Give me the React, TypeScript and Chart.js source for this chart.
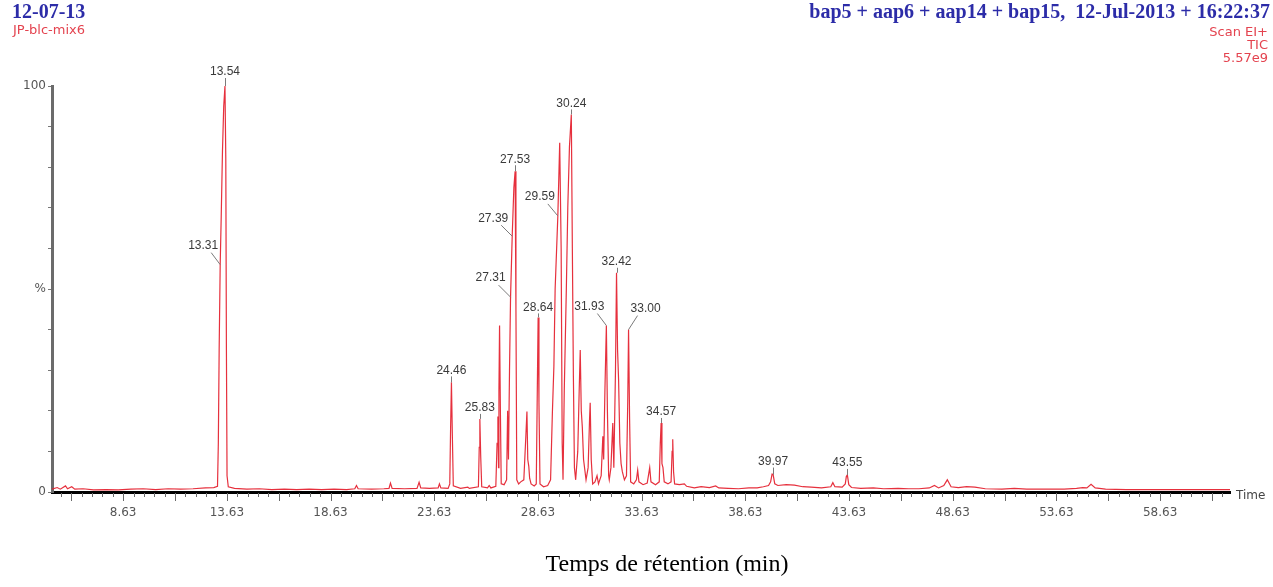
import { useEffect, useRef } from 'react';
import { Chart, registerables } from 'chart.js';

Chart.register(...registerables);

// ---- axis ----
const X_MIN = 5.2;
const X_MAX = 62.0;
const xTickValues = [8.63, 13.63, 18.63, 23.63, 28.63, 33.63, 38.63, 43.63, 48.63, 53.63, 58.63];
const xTickLabels = ['8.63', '13.63', '18.63', '23.63', '28.63', '33.63', '38.63', '43.63', '48.63', '53.63', '58.63'];
const yTickValues = [0, 50, 100];
const yTickLabels = ['0', '%', '100'];

// ---- TIC trace: [retention time (min), relative intensity (%)] ----
const ticTrace: [number, number][] = [
  [5.2, 0.7], [5.45, 1.1], [5.6, 0.7], [5.85, 1.5], [5.95, 0.8], [6.15, 1.3], [6.3, 0.7], [6.7, 0.8],
  [7.2, 0.5], [7.8, 0.6], [8.4, 0.5], [9.0, 0.7], [9.6, 0.8], [10.2, 0.6], [10.8, 0.8], [11.4, 0.7],
  [12.0, 0.8], [12.6, 1.0], [13.0, 1.1], [13.18, 1.4],
  [13.22, 12], [13.26, 35], [13.31, 56], [13.36, 68], [13.42, 84], [13.48, 95], [13.54, 100],
  [13.58, 82], [13.61, 35], [13.64, 4], [13.7, 1.3],
  [14.0, 0.9], [14.6, 0.7], [15.2, 0.8], [15.8, 0.6], [16.4, 0.7], [17.0, 0.6], [17.6, 0.7], [18.2, 0.6],
  [18.8, 0.7], [19.4, 0.6], [19.8, 0.8], [19.88, 1.6], [19.96, 0.8], [20.6, 0.7], [21.2, 0.8], [21.45, 0.9],
  [21.52, 2.2], [21.6, 0.9], [22.2, 0.8], [22.8, 0.9], [22.9, 2.4], [22.98, 1.0], [23.4, 0.9], [23.82, 1.0],
  [23.88, 2.0], [23.95, 1.0], [24.3, 0.9], [24.38, 2], [24.42, 16], [24.46, 27], [24.5, 15], [24.55, 1.5],
  [24.9, 0.9], [25.25, 1.2], [25.32, 0.9], [25.76, 1.3], [25.8, 11], [25.83, 18], [25.87, 9], [25.92, 1.3],
  [26.2, 1.0], [26.28, 1.6], [26.36, 1.0], [26.6, 1.4], [26.66, 12], [26.7, 18.6], [26.73, 6], [26.75, 25],
  [26.78, 41], [26.82, 20], [26.86, 2], [27.0, 1.8], [27.12, 3], [27.17, 20], [27.21, 8], [27.26, 30],
  [27.31, 48], [27.39, 63], [27.47, 75], [27.53, 79], [27.57, 45], [27.61, 3], [27.7, 2], [27.8, 2.5],
  [27.95, 3], [28.05, 14], [28.1, 19.8], [28.14, 8], [28.19, 6.3], [28.23, 3.4], [28.3, 2], [28.45, 1.5],
  [28.55, 2], [28.6, 25], [28.64, 43], [28.68, 22], [28.73, 2], [28.9, 1.3], [29.1, 1.6], [29.24, 3],
  [29.33, 20], [29.4, 31], [29.46, 50], [29.59, 68], [29.68, 86], [29.75, 60], [29.8, 12], [29.84, 3],
  [29.9, 25], [30.0, 50], [30.07, 70], [30.15, 85], [30.24, 93], [30.29, 60], [30.34, 28.4], [30.39, 6],
  [30.45, 3], [30.55, 10], [30.62, 25], [30.67, 35], [30.72, 20], [30.77, 16], [30.83, 8], [30.95, 3],
  [31.05, 6], [31.12, 18], [31.15, 22], [31.2, 8], [31.27, 2], [31.38, 2.5], [31.48, 4], [31.55, 2],
  [31.68, 4], [31.76, 13.7], [31.8, 8], [31.86, 25], [31.93, 41], [31.98, 20], [32.04, 4], [32.07, 3],
  [32.15, 6], [32.24, 17], [32.29, 6], [32.37, 30], [32.42, 54], [32.47, 35], [32.52, 27.6], [32.58, 12],
  [32.64, 7], [32.7, 5], [32.8, 3], [32.9, 4], [32.96, 22], [33.0, 40], [33.05, 18], [33.1, 2.5],
  [33.25, 2], [33.38, 3], [33.44, 5.4], [33.5, 2.5], [33.7, 1.8], [33.9, 2.2], [34.02, 6], [34.08, 2.5],
  [34.3, 1.8], [34.48, 2.5], [34.53, 12], [34.57, 17], [34.61, 7], [34.66, 6], [34.72, 2.5], [34.9, 2],
  [35.05, 2.5], [35.1, 10], [35.13, 13], [35.17, 5], [35.22, 2], [35.45, 1.8], [35.69, 2], [35.8, 1.4],
  [36.17, 1.0], [36.5, 1.3], [36.9, 1.1], [37.2, 1.5], [37.35, 1.0], [37.8, 0.9], [38.3, 0.8], [38.8, 1.0],
  [39.2, 1.0], [39.5, 1.3], [39.75, 1.6], [39.85, 2.5], [39.92, 4.4], [39.97, 4.3], [40.05, 2], [40.2, 1.6],
  [40.6, 1.8], [41.0, 1.7], [41.4, 1.3], [41.8, 1.2], [42.3, 1.0], [42.75, 1.3], [42.85, 2.3], [42.95, 1.3],
  [43.3, 1.2], [43.45, 2], [43.5, 3.8], [43.55, 4.2], [43.62, 1.8], [43.75, 1.1], [44.2, 0.9], [44.8, 1.0],
  [45.3, 0.8], [46.0, 0.9], [46.5, 0.8], [47.0, 0.8], [47.5, 1.0], [47.75, 1.6], [47.95, 1.0], [48.2, 1.6],
  [48.37, 3.0], [48.55, 1.3], [48.9, 1.1], [49.3, 1.3], [49.7, 1.2], [50.2, 0.8], [51.0, 0.7], [51.6, 0.9],
  [52.2, 0.7], [53.0, 0.7], [54.0, 0.7], [54.6, 0.9], [54.9, 1.1], [55.1, 1.0], [55.3, 1.9], [55.5, 1.0],
  [56.0, 0.7], [57.0, 0.6], [58.0, 0.6], [59.0, 0.6], [60.0, 0.6], [61.0, 0.6], [62.0, 0.6],
];

// ---- peak annotations ----
const peakTimes = [13.54, 13.31, 24.46, 25.83, 27.31, 27.39, 27.53, 28.64, 29.59, 30.24, 31.93, 32.42, 33.0, 34.57, 39.97, 43.55];
const peakTexts = ['13.54', '13.31', '24.46', '25.83', '27.31', '27.39', '27.53', '28.64', '29.59', '30.24', '31.93', '32.42', '33.00', '34.57', '39.97', '43.55'];
// label placement (pixels, relative to the peak point) - style only
const peakLabelOffsets: [number, number][] = [
  [0, -14], [-17, -19], [0, -12], [0, -11], [-20, -19], [-19, -18], [0, -12], [0, -10],
  [-18, -19], [0, -11], [-17, -19], [0, -11], [17, -21], [0, -11], [0, -13], [0, -12],
];

const headerLeftTitle = '12-07-13';
const headerLeftSub = 'JP-blc-mix6';
const headerRightTitle = 'bap5 + aap6 + aap14 + bap15,  12-Jul-2013 + 16:22:37';
const headerRightLines = ['Scan EI+', 'TIC', '5.57e9'];
const xAxisEndLabel = 'Time';
const xAxisTitle = 'Temps de rétention (min)';

const BLUE = '#2c2ca8';
const RED_TEXT = '#e4434f';
const TRACE = 'rgba(228, 30, 45, 0.92)';
const SANS = '"Liberation Sans", Arial, sans-serif';
const WIDE = '"DejaVu Sans", Verdana, sans-serif';
const SERIF = '"Liberation Serif", "Times New Roman", serif';

function valueAt(t: number): number {
  let best = ticTrace[0];
  for (const p of ticTrace) if (Math.abs(p[0] - t) < Math.abs(best[0] - t)) best = p;
  return best[1];
}

const annotationPlugin = {
  id: 'chromAnnotations',
  afterDraw(chart: any) {
    const ctx = chart.ctx as CanvasRenderingContext2D;
    const xs = chart.scales.x;
    const ys = chart.scales.y;
    const area = chart.chartArea;
    ctx.save();

    // x-axis tick marks (0.5 min minor, 2.5 min major)
    ctx.strokeStyle = '#6a6a6a';
    ctx.lineWidth = 1;
    const base = xTickValues[0];
    for (let k = -6; k <= 108; k++) {
      const t = base + k * 0.5;
      if (t <= X_MIN + 0.05 || t >= X_MAX - 0.05) continue;
      const px = Math.round(xs.getPixelForValue(t)) + 0.5;
      const len = Math.abs(k % 5) === 0 ? 8 : 4;
      ctx.beginPath();
      ctx.moveTo(px, area.bottom + 1);
      ctx.lineTo(px, area.bottom + 1 + len);
      ctx.stroke();
    }

    // peak labels + leaders
    ctx.font = `12px ${SANS}`;
    ctx.textAlign = 'center';
    ctx.textBaseline = 'middle';
    peakTimes.forEach((t, i) => {
      const px = xs.getPixelForValue(t);
      const py = ys.getPixelForValue(valueAt(t));
      const [dx, dy] = peakLabelOffsets[i];
      const cx = px + dx;
      const cy = py + dy;
      ctx.strokeStyle = '#7a7a7a';
      ctx.lineWidth = 1;
      ctx.beginPath();
      if (dx === 0) {
        ctx.moveTo(Math.round(px) + 0.5, cy + 6);
        ctx.lineTo(Math.round(px) + 0.5, py);
      } else {
        ctx.moveTo(cx - Math.sign(dx) * 8, cy + 7);
        ctx.lineTo(px, py);
      }
      ctx.stroke();
      ctx.fillStyle = '#3a3a3a';
      ctx.fillText(peakTexts[i], cx, cy);
    });

    // header
    ctx.textBaseline = 'middle';
    ctx.textAlign = 'left';
    ctx.fillStyle = BLUE;
    ctx.font = `bold 20px ${SERIF}`;
    ctx.fillText(headerLeftTitle, 12, 13);
    ctx.fillStyle = RED_TEXT;
    ctx.font = `13px ${WIDE}`;
    ctx.fillText(headerLeftSub, 13, 31);

    ctx.textAlign = 'right';
    ctx.fillStyle = BLUE;
    ctx.font = `bold 20px ${SERIF}`;
    ctx.fillText(headerRightTitle, 1270, 13);
    ctx.fillStyle = RED_TEXT;
    ctx.font = `13px ${WIDE}`;
    headerRightLines.forEach((s, i) => ctx.fillText(s, 1268, 33 + i * 13));

    // axis end label
    ctx.textAlign = 'left';
    ctx.fillStyle = '#444';
    ctx.font = `12px ${WIDE}`;
    ctx.fillText(xAxisEndLabel, area.right + 6, area.bottom + 4);

    // bottom title
    ctx.textAlign = 'center';
    ctx.fillStyle = '#000';
    ctx.font = `24px ${SERIF}`;
    ctx.fillText(xAxisTitle, 667, 565);

    ctx.restore();
  },
};

export default function App() {
  const ref = useRef<HTMLCanvasElement | null>(null);
  useEffect(() => {
    if (!ref.current) return;
    const chart = new Chart(ref.current, {
      type: 'line',
      data: {
        datasets: [
          {
            data: ticTrace.map(([x, y]) => ({ x, y })),
            borderColor: TRACE,
            borderWidth: 1.2,
            pointRadius: 0,
            tension: 0,
            fill: false,
            clip: false as any,
          },
        ],
      },
      options: {
        animation: false,
        responsive: false,
        maintainAspectRatio: false,
        devicePixelRatio: 1,
        layout: { padding: { left: 0, right: 43, top: 86, bottom: 0 } },
        plugins: { legend: { display: false }, tooltip: { enabled: false }, title: { display: false } },
        scales: {
          x: {
            type: 'linear',
            min: X_MIN,
            max: X_MAX,
            afterBuildTicks: (scale: any) => {
              scale.ticks = xTickValues.map((v) => ({ value: v }));
            },
            afterFit: (scale: any) => {
              scale.height = 95;
            },
            ticks: {
              autoSkip: false,
              maxRotation: 0,
              padding: 14,
              color: '#555',
              font: { family: WIDE, size: 12 },
              callback: (_v: any, i: number) => xTickLabels[i],
            },
            grid: { display: true, drawOnChartArea: false, drawTicks: false },
            border: { display: true, color: '#000', width: 3 },
          },
          y: {
            type: 'linear',
            min: 0,
            max: 100,
            afterFit: (scale: any) => {
              scale.width = 52;
            },
            ticks: {
              stepSize: 10,
              padding: 2,
              color: '#555',
              font: { family: WIDE, size: 12 },
              callback: (v: any) => {
                const idx = yTickValues.indexOf(Number(v));
                return idx >= 0 ? yTickLabels[idx] : '';
              },
            },
            grid: { display: true, drawOnChartArea: false, tickLength: 4, color: '#777' },
            border: { display: true, color: '#6b6b6b', width: 3 },
          },
        },
      },
      plugins: [annotationPlugin],
    });
    return () => chart.destroy();
  }, []);

  return (
    <div style={{ position: 'fixed', left: 0, top: 0, width: 1273, height: 587, background: '#fff' }}>
      <canvas ref={ref} width={1273} height={587} style={{ width: 1273, height: 587, display: 'block' }} />
    </div>
  );
}
